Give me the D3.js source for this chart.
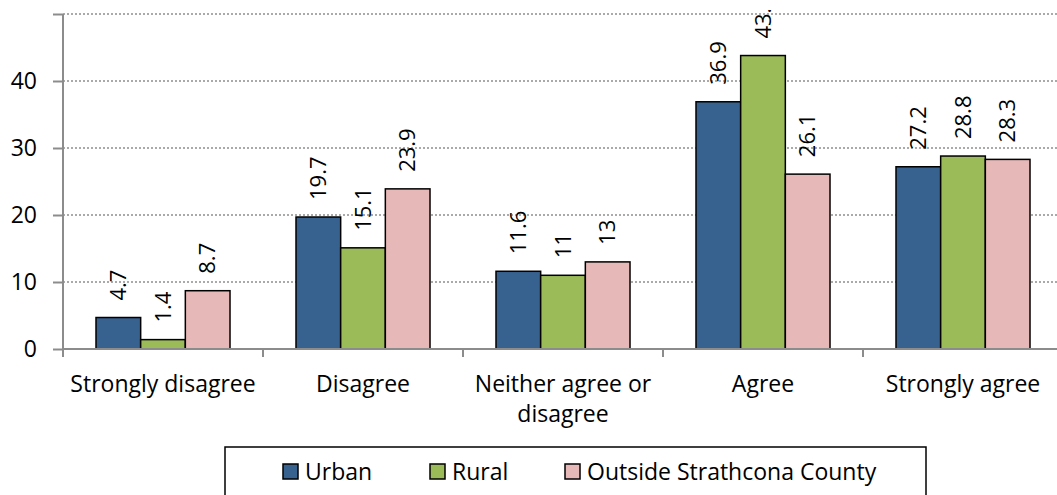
<!DOCTYPE html>
<html>
<head>
<meta charset="utf-8">
<script src="https://cdn.jsdelivr.net/npm/d3@7"></script>
<style>
  html, body { margin: 0; padding: 0; background: #fff; }
  svg { display: block; font-family: "Open Sans", sans-serif; }
</style>
</head>
<body>
<div id="chart"></div>
<script>
const width = 1057;
const height = 495;

// Chart data
const categories = ["Strongly disagree", "Disagree", "Neither agree or disagree", "Agree", "Strongly agree"];
const seriesNames = ["Urban", "Rural", "Outside Strathcona County"];
const urban = [4.7, 19.7, 11.6, 36.9, 27.2];
const rural = [1.4, 15.1, 11, 43.8, 28.8];
const outside = [8.7, 23.9, 13, 26.1, 28.3];
const yTicks = [0, 10, 20, 30, 40, 50];
const colors = ["#37618F", "#9BBB59", "#E6B8B7"];

const seriesValues = [urban, rural, outside];

const svg = d3.select("#chart").append("svg")
  .attr("width", width)
  .attr("height", height);

const x = d3.scaleBand()
  .domain(categories)
  .range([63, 1063])
  .paddingInner(0.33)
  .paddingOuter(0.165);

const xs = d3.scaleBand()
  .domain(seriesNames)
  .range([0, x.bandwidth()]);

const y = d3.scaleLinear()
  .domain([0, 50])
  .range([349, 14]);

// gridlines (dotted)
svg.append("g")
  .selectAll("line")
  .data(yTicks.filter(d => d > 0))
  .join("line")
    .attr("x1", 63)
    .attr("x2", width)
    .attr("y1", d => y(d))
    .attr("y2", d => y(d))
    .attr("stroke", "#8f8f8f")
    .attr("stroke-width", 1.5)
    .attr("stroke-dasharray", "2,2");

// y axis - top tick (50) has no label, like the original
const yAxis = svg.append("g")
  .attr("transform", "translate(63,0)")
  .call(d3.axisLeft(y).tickValues(yTicks).tickSize(10).tickPadding(16)
    .tickFormat(d => d === 50 ? "" : d));
yAxis.select(".domain").attr("stroke", "#8c8c8c").attr("stroke-width", 2).attr("d", `M0,${y(50)}V${y(0)}`);
yAxis.selectAll(".tick line").attr("stroke", "#8c8c8c").attr("stroke-width", 2);
yAxis.selectAll(".tick text")
  .style("font-family", "'Open Sans', sans-serif")
  .style("font-size", "23px")
  .attr("fill", "#000");

// bars
const groups = svg.append("g")
  .selectAll("g")
  .data(seriesValues)
  .join("g")
    .attr("fill", (d, i) => colors[i]);

groups.selectAll("rect")
  .data((vals, si) => vals.map((v, ci) => ({ v, ci, si })))
  .join("rect")
    .attr("x", d => x(categories[d.ci]) + xs(seriesNames[d.si]))
    .attr("width", xs.bandwidth())
    .attr("y", d => y(d.v))
    .attr("height", d => y(0) - y(d.v))
    .attr("stroke", "#000")
    .attr("stroke-width", 1.5);

// x axis
svg.append("line")
  .attr("x1", 63).attr("x2", width)
  .attr("y1", y(0)).attr("y2", y(0))
  .attr("stroke", "#8c8c8c")
  .attr("stroke-width", 2);

svg.append("g")
  .selectAll("line")
  .data(categories)
  .join("line")
    .attr("x1", d => x(d) - x.step() * x.paddingInner() / 2)
    .attr("x2", d => x(d) - x.step() * x.paddingInner() / 2)
    .attr("y1", y(0))
    .attr("y2", y(0) + 8)
    .attr("stroke", "#8c8c8c")
    .attr("stroke-width", 2);

// category labels (wrapped like the original)
const catLines = {
  "Neither agree or disagree": ["Neither agree or", "disagree"]
};
svg.append("g")
  .selectAll("text")
  .data(categories)
  .join("text")
    .attr("x", d => x(d) + x.bandwidth() / 2)
    .attr("y", 392)
    .attr("text-anchor", "middle")
    .style("font-size", "23px")
    .attr("fill", "#000")
    .each(function(d) {
      const lines = catLines[d] || [d];
      d3.select(this).selectAll("tspan")
        .data(lines)
        .join("tspan")
          .attr("x", x(d) + x.bandwidth() / 2)
          .attr("dy", (l, i) => i === 0 ? 0 : 30)
          .text(l => l);
    });

// value labels, clipped at the top of the chart area as in the original
svg.append("clipPath").attr("id", "labelClip")
  .append("rect").attr("x", 0).attr("y", 10).attr("width", width).attr("height", height);

const labels = svg.append("g").attr("clip-path", "url(#labelClip)");
seriesValues.forEach((vals, si) => {
  labels.selectAll(null)
    .data(vals)
    .join("text")
      .attr("transform", (v, ci) => {
        const cx = x(categories[ci]) + xs(seriesNames[si]) + xs.bandwidth() / 2;
        return `translate(${cx},${y(v) - 17}) rotate(-90)`;
      })
      .attr("dy", "0.35em")
      .attr("text-anchor", "start")
      .style("font-size", "22px")
      .attr("fill", "#000")
      .text(v => String(v));
});

// legend
const legend = svg.append("g");
legend.append("rect")
  .attr("x", 225).attr("y", 447)
  .attr("width", 701).attr("height", 70)
  .attr("fill", "none")
  .attr("stroke", "#000")
  .attr("stroke-width", 1.5);

const legendX = [283, 430, 565];
seriesNames.forEach((name, i) => {
  legend.append("rect")
    .attr("x", legendX[i]).attr("y", 464)
    .attr("width", 15).attr("height", 15)
    .attr("fill", colors[i])
    .attr("stroke", "#000")
    .attr("stroke-width", 1.5);
  legend.append("text")
    .attr("x", legendX[i] + 22)
    .attr("y", 480)
    .style("font-size", "23px")
    .attr("fill", "#000")
    .text(name);
});
</script>
</body>
</html>
